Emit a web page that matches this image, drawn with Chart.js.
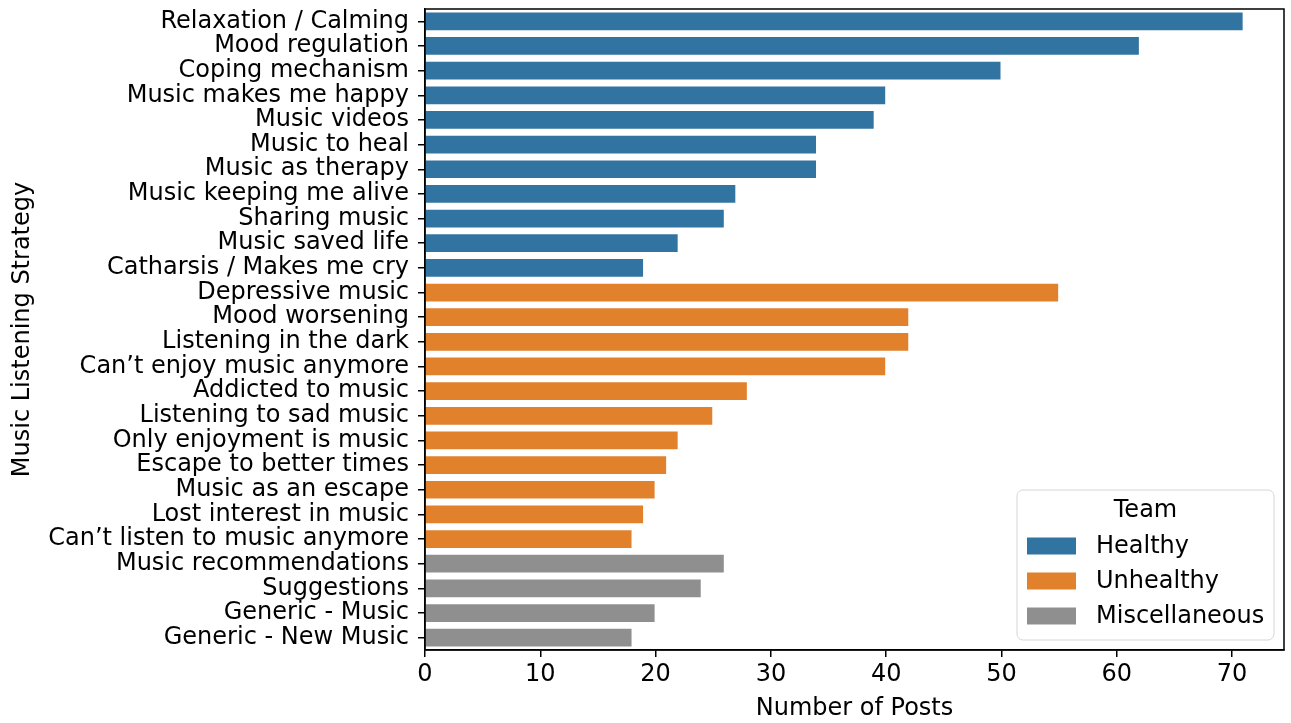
<!DOCTYPE html>
<html>
<head>
<meta charset="utf-8">
<script src="https://cdn.jsdelivr.net/npm/chart.js@4/dist/chart.umd.min.js"></script>
<style>
  html, body { margin: 0; padding: 0; background: #fff; }
  #wrap { width: 1291px; height: 723px; }
</style>
</head>
<body>
<div id="wrap"><canvas id="myChart"></canvas></div>
<script>
// category labels, top to bottom
var healthyLabels = ["Relaxation / Calming","Mood regulation","Coping mechanism","Music makes me happy",
  "Music videos","Music to heal","Music as therapy","Music keeping me alive","Sharing music",
  "Music saved life","Catharsis / Makes me cry"];
var unhealthyLabels = ["Depressive music","Mood worsening","Listening in the dark","Can\u2019t enjoy music anymore",
  "Addicted to music","Listening to sad music","Only enjoyment is music","Escape to better times",
  "Music as an escape","Lost interest in music","Can\u2019t listen to music anymore"];
var miscLabels = ["Music recommendations","Suggestions","Generic - Music","Generic - New Music"];

// number of posts
var healthy = [71,62,50,40,39,34,34,27,26,22,19];
var unhealthy = [55,42,42,40,28,25,22,21,20,19,18];
var misc = [26,24,20,18];

var xTicks = [0,10,20,30,40,50,60,70];

var labels = healthyLabels.concat(unhealthyLabels, miscLabels);

// pad each group with nulls so all three share one category axis
function pad(before, vals, after) {
  var out = [];
  for (var i = 0; i < before; i++) out.push(null);
  out = out.concat(vals);
  for (var j = 0; j < after; j++) out.push(null);
  return out;
}

var font = "'DejaVu Sans', sans-serif";
var fsize = 24;

// box around the plot + legend inside bottom right
var framePlugin = {
  id: 'frame',
  afterDraw: function(chart) {
    var c = chart.ctx, a = chart.chartArea;
    c.save();
    c.strokeStyle = '#000';
    c.lineWidth = 1.5;
    c.strokeRect(a.left, a.top, a.right - a.left, a.bottom - a.top);

    // legend box
    var bx = 1017, by = 490, bw = 257, bh = 150, r = 6;
    c.beginPath();
    c.moveTo(bx + r, by);
    c.arcTo(bx + bw, by, bx + bw, by + bh, r);
    c.arcTo(bx + bw, by + bh, bx, by + bh, r);
    c.arcTo(bx, by + bh, bx, by, r);
    c.arcTo(bx, by, bx + bw, by, r);
    c.closePath();
    c.fillStyle = 'rgba(255,255,255,0.85)';
    c.fill();
    c.strokeStyle = '#d6d6d6';
    c.lineWidth = 1;
    c.stroke();

    c.fillStyle = '#000';
    c.font = fsize + 'px ' + font;
    c.textBaseline = 'middle';
    c.textAlign = 'center';
    c.fillText('Team', bx + bw / 2, 511);
    c.textAlign = 'left';
    var ys = [546, 581, 616];
    chart.data.datasets.forEach(function(ds, i) {
      c.fillStyle = ds.backgroundColor;
      c.fillRect(1027, ys[i] - 8.5, 49, 17);
      c.fillStyle = '#000';
      c.fillText(ds.label, 1096, ys[i] + 1);
    });
    c.restore();
  }
};

var ctx = document.getElementById("myChart");
var myChart = new Chart(ctx, {
  type: 'bar',
  data: {
    labels: labels,
    datasets: [
      {
        label: "Healthy",
        data: pad(0, healthy, unhealthy.length + misc.length),
        backgroundColor: "#3274a1"
      },
      {
        label: "Unhealthy",
        data: pad(healthy.length, unhealthy, misc.length),
        backgroundColor: "#e1812c"
      },
      {
        label: "Miscellaneous",
        data: pad(healthy.length + unhealthy.length, misc, 0),
        backgroundColor: "#8f8f8f"
      }
    ]
  },
  options: {
    indexAxis: 'y',
    responsive: true,
    maintainAspectRatio: false,
    animation: false,
    datasets: {
      bar: {
        grouped: false,
        categoryPercentage: 0.8,
        barPercentage: 1.0,
        borderWidth: 1,
        borderColor: 'rgba(255,255,255,0.55)',
        skipNull: true
      }
    },
    layout: { padding: { left: 0, right: 7, top: 9, bottom: 0 } },
    plugins: {
      legend: { display: false },
      tooltip: { enabled: false }
    },
    scales: {
      x: {
        type: 'linear',
        min: 0,
        max: 74.5,
        afterBuildTicks: function(scale) {
          scale.ticks = xTicks.map(function(v) { return { value: v }; });
        },
        afterFit: function(scale) { scale.height = 73; },
        grid: {
          display: true,
          drawOnChartArea: false,
          drawTicks: true,
          tickLength: 7,
          color: '#000',
          lineWidth: 1.5
        },
        border: { display: true, color: '#000', width: 1.5 },
        ticks: {
          color: '#000',
          padding: 3,
          font: { family: font, size: fsize }
        },
        title: {
          display: true,
          text: 'Number of Posts',
          color: '#000',
          padding: { top: 2, bottom: 0 },
          font: { family: font, size: fsize }
        }
      },
      y: {
        afterFit: function(scale) {
          scale.width = 425;
          scale.paddingTop = 0;
          scale.paddingBottom = 0;
        },
        grid: {
          display: true,
          offset: false,
          drawOnChartArea: false,
          drawTicks: true,
          tickLength: 7,
          color: '#000',
          lineWidth: 1.5
        },
        border: { display: true, color: '#000', width: 1.5 },
        ticks: {
          autoSkip: false,
          color: '#000',
          padding: 9,
          font: { family: font, size: fsize }
        },
        title: {
          display: true,
          text: 'Music Listening Strategy',
          color: '#000',
          padding: { top: 8, bottom: 0 },
          font: { family: font, size: fsize }
        }
      }
    }
  },
  plugins: [framePlugin]
});
</script>
</body>
</html>
